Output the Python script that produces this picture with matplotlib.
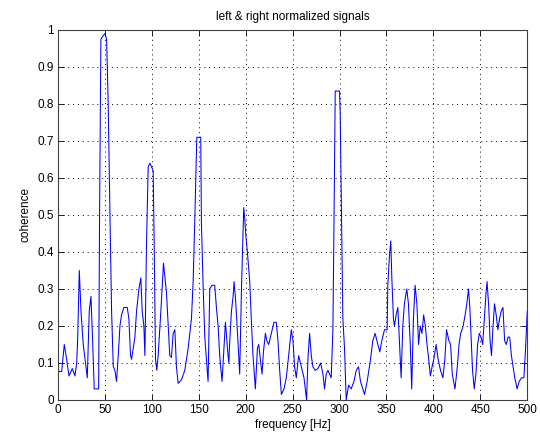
import matplotlib
matplotlib.use("Agg")
import matplotlib.pyplot as plt
from matplotlib.ticker import MultipleLocator, FuncFormatter

freq = [0, 3.9, 6.7, 9.2, 11.7, 15.2, 18.1, 19.9, 20.9, 22.7, 24.5, 26.9, 29.8, 31.2,
        33.3, 35.1, 36.9, 38.6, 43.3, 44.3, 45.7, 48.2, 50, 51.8, 53.5, 55.3, 57.1,
        58.9, 60.6, 62.4, 64.2, 66, 67.7, 70.2, 73.8, 75.5, 77.3, 78.4, 80.1, 81.9,
        83.7, 86.2, 88.3, 89.7, 91.5, 92.6, 94.3, 96.1, 97.9, 99.6, 101.4, 102.5,
        103.9, 105.3, 106.7, 109.6, 112.4, 115.6, 117.4, 119.1, 120.9, 122.7, 124.5,
        126.2, 128, 131.6, 135.1, 138.7, 142.2, 144, 145.7, 147.2, 147.9, 152.1,
        152.8, 154.6, 156.4, 158.2, 159.9, 161.7, 164.2, 167, 168.8, 170.6, 172.3,
        174.8, 177, 178.4, 179.4, 180.5, 182, 183, 184.8, 186.6, 187.6, 189, 190.4,
        191.9, 193.6, 195.4, 197.9, 199, 200, 201.8, 204.3, 206.1, 207.8, 210.3,
        212.5, 213.9, 215.7, 217.4, 218.9, 221, 222.5, 224.5, 227.3, 230.1, 232.6,
        234.4, 236.2, 238, 240.8, 243.3, 245.7, 248.6, 250.4, 252.1, 253.9, 256.4,
        259.2, 262.1, 263.5, 264.9, 266.3, 268.1, 269.9, 271.6, 274.1, 277, 279.8,
        282.3, 284, 285.8, 287.6, 289.4, 291.1, 292.9, 294, 295.4, 300, 300.7,
        301.8, 303.5, 305.3, 307.1, 309.6, 312.4, 315.3, 317.8, 320.2, 322.3, 324.8,
        326.6, 329.4, 333, 335.4, 337.9, 340.8, 342.9, 345, 347.9, 350.7, 351.4,
        353.2, 354.6, 355.7, 357.4, 358.5, 360.3, 362.1, 363.8, 365.6, 367.4, 369.1,
        371.6, 373.4, 375.5, 376.9, 378.7, 380.5, 382.4, 384.2, 386, 387.8, 389.6,
        391.4, 393.2, 395, 396.8, 398.6, 400.4, 402.9, 405, 407.6, 410.1, 412.2,
        414, 416.5, 418.3, 420.1, 423, 425.5, 427.3, 429.1, 431.7, 433.8, 435.6,
        437.4, 438.8, 440.3, 441.7, 443.5, 445.3, 447.1, 448.9, 450.7, 452.5, 454.3,
        456.1, 457.2, 459, 460.4, 461.9, 463.3, 465.1, 466.9, 468.7, 470.5, 472.3,
        474.1, 475.9, 477.7, 479.5, 481.3, 483.1, 484.9, 486.7, 489.2, 491.4, 493.9,
        496.4, 498.2, 500]

coherence = [0.077, 0.077, 0.15, 0.11, 0.065, 0.085, 0.065, 0.10, 0.16, 0.35, 0.24,
             0.15, 0.09, 0.06, 0.24, 0.28, 0.16, 0.03, 0.03, 0.5, 0.975, 0.985, 0.99,
             0.975, 0.8, 0.51, 0.24, 0.09, 0.08, 0.05, 0.12, 0.2, 0.23, 0.25, 0.25,
             0.22, 0.12, 0.11, 0.14, 0.17, 0.24, 0.30, 0.33, 0.24, 0.2, 0.12, 0.42,
             0.63, 0.64, 0.63, 0.62, 0.42, 0.11, 0.08, 0.12, 0.24, 0.37, 0.29, 0.2,
             0.12, 0.115, 0.18, 0.19, 0.09, 0.045, 0.055, 0.08, 0.14, 0.22, 0.32,
             0.48, 0.64, 0.71, 0.71, 0.48, 0.31, 0.17, 0.11, 0.05, 0.30, 0.31, 0.31,
             0.25, 0.2, 0.12, 0.05, 0.15, 0.21, 0.18, 0.14, 0.10, 0.16, 0.24, 0.28,
             0.32, 0.28, 0.22, 0.15, 0.07, 0.29, 0.52, 0.49, 0.45, 0.40, 0.32, 0.21,
             0.12, 0.03, 0.14, 0.15, 0.11, 0.07, 0.13, 0.18, 0.16, 0.15, 0.18, 0.21,
             0.21, 0.16, 0.08, 0.015, 0.03, 0.06, 0.12, 0.19, 0.16, 0.09, 0.06, 0.12,
             0.09, 0.06, 0.03, 0.0, 0.11, 0.18, 0.12, 0.09, 0.08, 0.085, 0.10, 0.07,
             0.03, 0.07, 0.08, 0.07, 0.06, 0.19, 0.46, 0.835, 0.835, 0.77, 0.56, 0.22,
             0.14, 0.0, 0.04, 0.03, 0.05, 0.08, 0.09, 0.05, 0.03, 0.015, 0.05, 0.11,
             0.16, 0.18, 0.15, 0.13, 0.16, 0.19, 0.19, 0.31, 0.39, 0.43, 0.33, 0.22,
             0.2, 0.23, 0.25, 0.16, 0.06, 0.2, 0.26, 0.30, 0.26, 0.14, 0.03, 0.22,
             0.31, 0.26, 0.15, 0.2, 0.18, 0.23, 0.2, 0.15, 0.11, 0.065, 0.09, 0.11,
             0.15, 0.11, 0.08, 0.06, 0.11, 0.19, 0.16, 0.15, 0.07, 0.03, 0.09, 0.15,
             0.18, 0.2, 0.23, 0.26, 0.30, 0.25, 0.16, 0.08, 0.03, 0.07, 0.15, 0.18,
             0.17, 0.15, 0.22, 0.29, 0.32, 0.25, 0.16, 0.12, 0.19, 0.26, 0.23, 0.19,
             0.22, 0.24, 0.25, 0.16, 0.15, 0.17, 0.17, 0.12, 0.09, 0.06, 0.03, 0.05,
             0.06, 0.06, 0.14, 0.24]

plt.rcParams['font.family'] = ['Liberation Sans', 'DejaVu Sans']

fig = plt.figure(figsize=(5.4, 4.41), dpi=100)
ax = fig.add_axes([0.1074, 0.093, 0.869, 0.839])
ax.plot(freq, coherence, color=(0, 0, 1), linewidth=0.75)
ax.set_xlim(0, 500)
ax.set_ylim(0, 1)
ax.xaxis.set_major_locator(MultipleLocator(50))
ax.yaxis.set_major_locator(MultipleLocator(0.1))
ax.yaxis.set_major_formatter(FuncFormatter(lambda v, p: ('%g' % round(v, 2))))
ax.grid(True, color='black', linestyle=(0, (1, 4)), linewidth=0.7)
ax.tick_params(direction='in', top=True, right=True, labelsize=8.5, length=4, width=0.6, pad=3)
for s in ax.spines.values():
    s.set_linewidth(0.8)
    s.set_color('#404040')
ax.set_title('left & right normalized signals', fontsize=8.5, pad=7)
ax.set_xlabel('frequency [Hz]', fontsize=8.5, labelpad=2)
ax.set_ylabel('coherence', fontsize=8.5, labelpad=4)
fig.savefig('out.png', dpi=100)
